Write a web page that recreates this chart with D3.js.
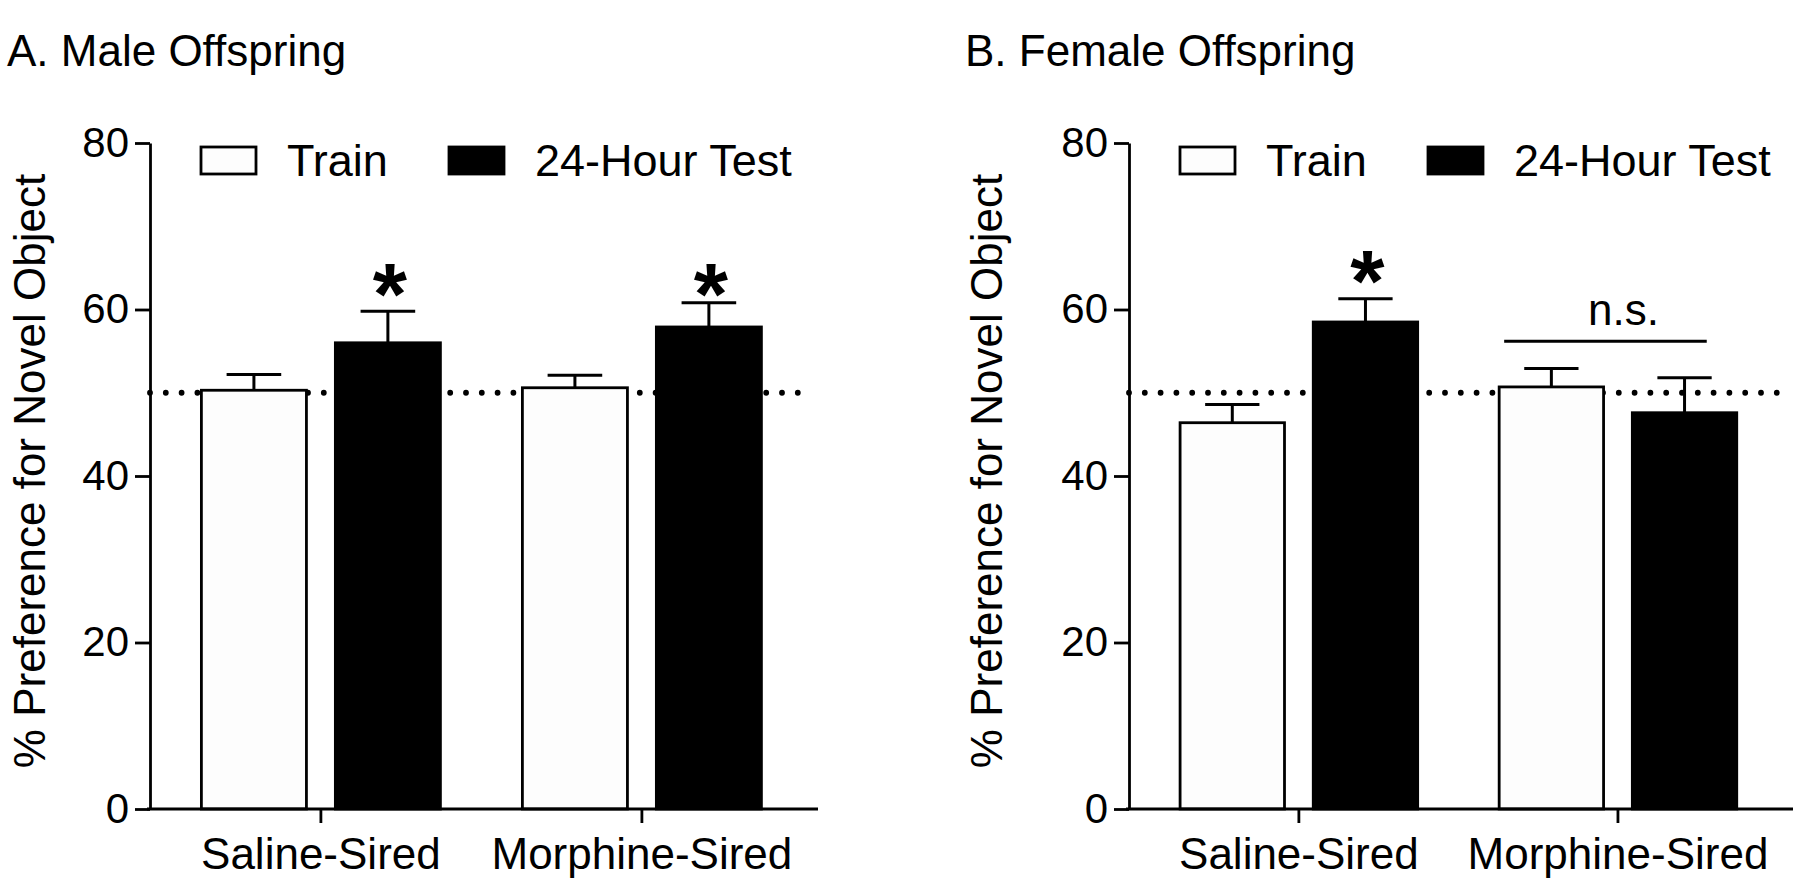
<!DOCTYPE html>
<html>
<head>
<meta charset="utf-8">
<script src="https://cdn.jsdelivr.net/npm/d3@7"></script>
<style>
  html, body { margin: 0; padding: 0; background: #fff; }
  svg { display: block; font-family: "Liberation Sans", Arial, Helvetica, sans-serif; }
</style>
</head>
<body>
<svg id="chart" width="1800" height="888"></svg>
<script>
// ---- data ----
const categories = ["Saline-Sired", "Morphine-Sired"];
const series = ["Train", "24-Hour Test"];
const yTicks = [0, 20, 40, 60, 80];

const maleTrain = [50.3, 50.6];
const maleTrainErr = [1.9, 1.5];
const maleTest = [56.0, 57.9];
const maleTestErr = [3.8, 2.9];

const femaleTrain = [46.4, 50.7];
const femaleTrainErr = [2.2, 2.2];
const femaleTest = [58.5, 47.6];
const femaleTestErr = [2.8, 4.2];

const chanceLevel = 50;
const maleStars = [["Saline-Sired", 62.6], ["Morphine-Sired", 62.6]];
const femaleStars = [["Saline-Sired", 64.1]];
const femaleNS = { from: "Morphine-Sired", value: 56.2, label: "n.s." };

const titles = ["A. Male Offspring", "B. Female Offspring"];
const yLabel = "% Preference for Novel Object";

// ---- layout ----
const svg = d3.select("#chart");
const FONT = 42;
const y = d3.scaleLinear().domain([0, 80]).range([809, 143]);

const panels = [
  { title: titles[0], titleX: 7, axisX: 150, xEnd: 818, labelX: 45, train: maleTrain, trainErr: maleTrainErr, test: maleTest, testErr: maleTestErr, stars: maleStars, ns: null },
  { title: titles[1], titleX: 965, axisX: 1129, xEnd: 1793, labelX: 1002, train: femaleTrain, trainErr: femaleTrainErr, test: femaleTest, testErr: femaleTestErr, stars: femaleStars, ns: femaleNS }
];

panels.forEach(p => {
  const g = svg.append("g");
  const x0 = d3.scaleBand().domain(categories).range([p.axisX, p.xEnd]).paddingInner(0).paddingOuter(0.0405).align(0.4);
  const x1 = d3.scaleBand().domain(series).range([0, x0.bandwidth()]).paddingInner(0.216).paddingOuter(0.306);

  const rows = [];
  categories.forEach((c, i) => {
    rows.push({ cat: c, s: series[0], v: p.train[i], e: p.trainErr[i] });
    rows.push({ cat: c, s: series[1], v: p.test[i], e: p.testErr[i] });
  });

  // title
  g.append("text").attr("x", p.titleX).attr("y", 66).attr("font-size", 44).attr("fill", "#000").text(p.title);

  // dotted chance line (drawn under bars)
  g.append("line")
    .attr("x1", p.axisX).attr("x2", p.xEnd - 6)
    .attr("y1", y(chanceLevel)).attr("y2", y(chanceLevel))
    .attr("stroke", "#000").attr("stroke-width", 5.8)
    .attr("stroke-linecap", "round").attr("stroke-dasharray", "0 15.8");

  // error bars (upper only)
  const eg = g.append("g").attr("stroke", "#000").attr("stroke-width", 3);
  rows.forEach(r => {
    const cx = x0(r.cat) + x1(r.s) + x1.bandwidth() / 2;
    const hw = x1.bandwidth() * 0.26;
    eg.append("line").attr("x1", cx).attr("x2", cx).attr("y1", y(r.v)).attr("y2", y(r.v + r.e));
    eg.append("line").attr("x1", cx - hw).attr("x2", cx + hw).attr("y1", y(r.v + r.e)).attr("y2", y(r.v + r.e));
  });

  // bars
  g.append("g").selectAll("rect").data(rows).join("rect")
    .attr("x", d => x0(d.cat) + x1(d.s))
    .attr("width", x1.bandwidth())
    .attr("y", d => y(d.v))
    .attr("height", d => y(0) - y(d.v))
    .attr("fill", d => d.s === series[0] ? "#fdfdfd" : "#000")
    .attr("stroke", "#000").attr("stroke-width", 2.8);

  // stars
  p.stars.forEach(([c, v]) => {
    const cx = x0(c) + x1(series[1]) + x1.bandwidth() / 2;
    g.append("text").attr("x", cx + 2).attr("y", y(v) + 36)
      .attr("text-anchor", "middle").attr("font-size", 88).attr("font-weight", "bold").text("*");
  });

  // n.s. bracket
  if (p.ns) {
    const xa = x0(p.ns.from) + x1(series[0]) + 5;
    const xb = x0(p.ns.from) + x1(series[1]) + x1.bandwidth() - 30;
    g.append("line").attr("x1", xa).attr("x2", xb).attr("y1", y(p.ns.value)).attr("y2", y(p.ns.value))
      .attr("stroke", "#000").attr("stroke-width", 3);
    g.append("text").attr("x", (xa + xb) / 2 + 18).attr("y", y(p.ns.value) - 16)
      .attr("text-anchor", "middle").attr("font-size", 44).text(p.ns.label);
  }

  // y axis
  const ya = g.append("g").attr("transform", `translate(${p.axisX},0)`)
    .call(d3.axisLeft(y).tickValues(yTicks).tickSize(15).tickSizeOuter(0).tickPadding(6));
  ya.selectAll("path, line").attr("stroke", "#000").attr("stroke-width", 2.8);
  ya.selectAll("text").attr("font-size", FONT).attr("fill", "#000").attr("font-family", null);

  // x axis
  const xa = g.append("g").attr("transform", `translate(0,${y(0)})`)
    .call(d3.axisBottom(x0).tickSize(14).tickSizeOuter(0).tickPadding(15));
  xa.select(".domain").attr("d", `M${p.axisX - 3},0H${p.xEnd}`);
  xa.selectAll("path, line").attr("stroke", "#000").attr("stroke-width", 2.8);
  xa.selectAll("text").attr("font-size", 44).attr("fill", "#000").attr("font-family", null);

  // y label
  g.append("text")
    .attr("transform", `translate(${p.labelX},${471}) rotate(-90)`)
    .attr("text-anchor", "middle").attr("font-size", 44).text(yLabel);

  // legend
  const lg = g.append("g");
  series.forEach((s, i) => {
    const bx = p.axisX + 51 + i * 248;
    lg.append("rect").attr("x", bx).attr("y", 147).attr("width", 55).attr("height", 27)
      .attr("fill", i === 0 ? "#fdfdfd" : "#000").attr("stroke", "#000").attr("stroke-width", 2.8);
    lg.append("text").attr("x", bx + 86).attr("y", 176).attr("font-size", 45).text(s);
  });
});
</script>
</body>
</html>
